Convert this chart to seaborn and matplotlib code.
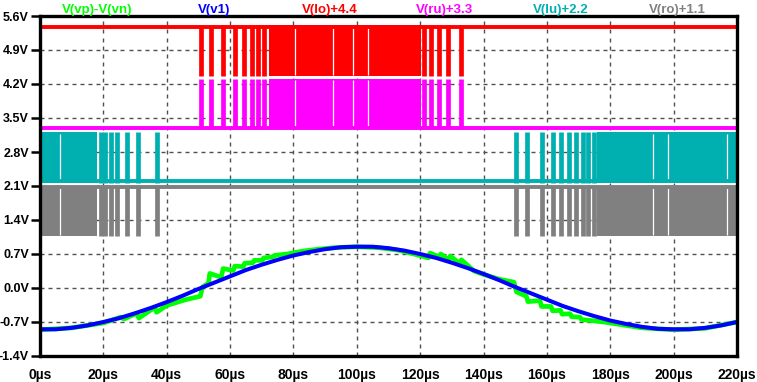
import matplotlib
matplotlib.use("Agg")
import matplotlib.pyplot as plt
from matplotlib.collections import LineCollection
import numpy as np
import seaborn as sns

# analog traces (time in us, volts)
v1_t = list(range(0, 225, 5))
v1_v = [-0.85, -0.85, -0.82, -0.77, -0.70, -0.62, -0.52, -0.41, -0.29, -0.16,
        -0.02, 0.11, 0.24, 0.37, 0.48, 0.58, 0.67, 0.74, 0.80, 0.84,
        0.85, 0.85, 0.82, 0.77, 0.70, 0.62, 0.52, 0.41, 0.29, 0.16,
        0.02, -0.11, -0.24, -0.37, -0.48, -0.58, -0.67, -0.74, -0.80, -0.84,
        -0.85, -0.85, -0.82, -0.77, -0.70]

diff_t = [0, 10, 20, 25.5, 26.5, 30.5, 31.2, 36.2, 36.8, 40, 46, 50.6, 51.3,
          53.2, 53.6, 57.2, 57.8, 61.0, 61.5, 64.2, 64.6, 67.2, 67.6, 70.2,
          70.6, 73.5, 74.0, 78, 83, 88, 93, 100, 107, 113, 118, 122.6, 123.1,
          126.0, 126.5, 129.0, 129.5, 132.5, 133.0, 137, 140, 145, 149.6,
          150.4, 153.5, 154.0, 157.8, 158.3, 161.3, 161.8, 164.3, 164.8,
          167.3, 167.8, 170.4, 170.9, 174, 178, 185, 190, 200, 210, 220]
diff_v = [-0.86, -0.82, -0.72, -0.60, -0.64, -0.52, -0.62, -0.40, -0.50, -0.36,
          -0.24, -0.17, 0.02, 0.10, 0.30, 0.22, 0.40, 0.36, 0.45, 0.44, 0.51,
          0.52, 0.57, 0.57, 0.62, 0.64, 0.67, 0.70, 0.76, 0.80, 0.83, 0.85,
          0.83, 0.78, 0.70, 0.62, 0.72, 0.64, 0.70, 0.58, 0.66, 0.50, 0.58,
          0.35, 0.28, 0.18, 0.12, -0.08, -0.17, -0.28, -0.26, -0.38, -0.38,
          -0.47, -0.46, -0.54, -0.53, -0.59, -0.60, -0.65, -0.67, -0.70, -0.77,
          -0.82, -0.86, -0.83, -0.70]

# switching traces: isolated pulses, dense switching spans, white gaps (us)
lo_ru_pulses = [50.8, 53.9, 57.8, 61.4, 64.4, 66.9, 68.9, 70.8,
                121.3, 123.4, 125.8, 128.8, 132.9]
lo_ru_dense = [(72.2, 120.3)]
lo_ru_gaps = [80.6, 92.6, 98.8, 103.4]

lu_ro_pulses = [19.1, 20.4, 22.4, 24.4, 27.5, 30.9, 36.9,
                150.3, 153.8, 158.4, 161.8, 164.4, 166.9, 169.2, 171.4, 173.0, 174.8]
lu_ro_dense = [(0.0, 18.0), (175.7, 220.0)]
lu_ro_gaps = [6.2, 193.6, 198.3, 216.8]

logic_high = 0.97

trace_names = ["V(vp)-V(vn)", "V(v1)", "V(lo)+4.4", "V(ru)+3.3", "V(lu)+2.2", "V(ro)+1.1"]
trace_colors = ["#00ff00", "#0000ff", "#ff0000", "#ff00ff", "#00b0b0", "#808080"]
name_x_px = [97, 214, 330, 445, 561, 677]

x_ticks = list(range(0, 221, 20))
y_ticks = [-1.4, -0.7, 0.0, 0.7, 1.4, 2.1, 2.8, 3.5, 4.2, 4.9, 5.6]


def draw_logic(ax, offset, rests_high, pulses, spans, gaps, color):
    lo, hi = offset, offset + logic_high
    for a, b in spans:
        ax.fill_between([a, b], lo - 0.035, hi + 0.035, color=color, lw=0, zorder=3)
    ax.vlines(pulses, lo - 0.035, hi + 0.035, color=color, lw=3.4, zorder=3)
    ax.vlines(gaps, lo - 0.01, hi + 0.01, color="white", lw=0.9, zorder=4)
    rest = hi if rests_high else lo
    ax.hlines(rest, 0, 220, color=color, lw=2.8, zorder=5)


sns.set_theme(style="white")
plt.rcParams["font.family"] = ["Liberation Sans", "DejaVu Sans"]

fig = plt.figure(figsize=(7.57, 3.82), dpi=100)
ax = fig.add_axes([40 / 757, 1 - 356 / 382, 697 / 757, 340 / 382])

sns.lineplot(x=diff_t, y=diff_v, color=trace_colors[0], lw=3.4, estimator=None,
             sort=False, ax=ax, zorder=3)
sns.lineplot(x=v1_t, y=v1_v, color=trace_colors[1], lw=2.9, estimator=None,
             sort=False, ax=ax, zorder=4)

draw_logic(ax, 4.4, True, lo_ru_pulses, lo_ru_dense, lo_ru_gaps, trace_colors[2])
draw_logic(ax, 3.3, False, lo_ru_pulses, lo_ru_dense, lo_ru_gaps, trace_colors[3])
draw_logic(ax, 2.2, False, lu_ro_pulses, lu_ro_dense, lu_ro_gaps, trace_colors[4])
draw_logic(ax, 1.1, True, lu_ro_pulses, lu_ro_dense, lu_ro_gaps, trace_colors[5])

ax.set_xlim(0, 220)
ax.set_ylim(-1.4, 5.6)

# dashed grid built from short segments (about 4 px on, 4 px off)
dash_v, dash_t = 0.083, 1.27
segs = []
for t in x_ticks[1:-1]:
    for y0 in np.arange(-1.4, 5.6, 2 * dash_v):
        segs.append([(t, y0), (t, min(y0 + dash_v, 5.6))])
for v in y_ticks[1:-1]:
    for x0 in np.arange(0, 220, 2 * dash_t):
        segs.append([(x0, v), (min(x0 + dash_t, 220), v)])
ax.add_collection(LineCollection(segs, colors="#505050", linewidths=1.0, zorder=2))

ax.set_xticks(x_ticks)
ax.set_xticklabels([f"{t}µs" for t in x_ticks])
ax.set_yticks(y_ticks)
ax.set_yticklabels([f"{v:.1f}V" for v in y_ticks])
ax.set_xlabel("")
ax.set_ylabel("")

for side in ["left", "right", "top", "bottom"]:
    ax.spines[side].set_visible(True)
    ax.spines[side].set_color("black")
    ax.spines[side].set_linewidth(2.4)
    ax.spines[side].set_zorder(6)

ax.tick_params(axis="y", left=True, direction="out", length=6.5, width=1.8,
               color="black", pad=1.5, labelsize=9)
ax.tick_params(axis="x", bottom=False, pad=3, labelsize=10)
for lab in ax.get_xticklabels() + ax.get_yticklabels():
    lab.set_fontweight("bold")
    lab.set_color("black")

for name, color, px in zip(trace_names, trace_colors, name_x_px):
    fig.text(px / 757, 1 - 10 / 382, name, color=color, fontsize=9.5,
             fontweight="bold", ha="center", va="center")

fig.savefig("out.png", dpi=100, facecolor="white")
